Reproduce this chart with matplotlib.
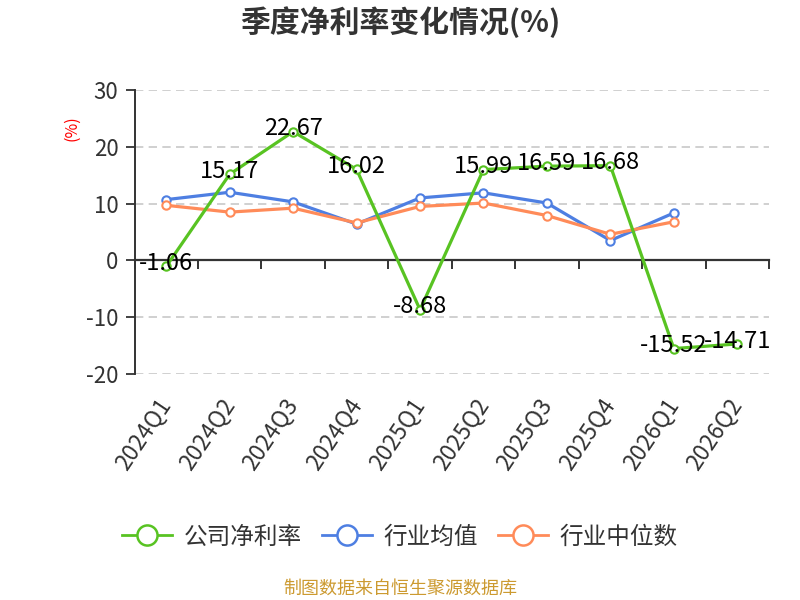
import matplotlib
matplotlib.use("Agg")
import matplotlib.pyplot as plt
from matplotlib.lines import Line2D
import numpy as np

plt.rcParams['font.family'] = ['Noto Sans CJK SC', 'DejaVu Sans']
plt.rcParams['axes.unicode_minus'] = False

categories = ['2024Q1', '2024Q2', '2024Q3', '2024Q4', '2025Q1', '2025Q2',
              '2025Q3', '2025Q4', '2026Q1', '2026Q2']
company = [-1.06, 15.17, 22.67, 16.02, -8.68, 15.99, 16.59, 16.68, -15.52, -14.71]
industry_avg = [10.7, 12.0, 10.3, 6.4, 11.0, 11.9, 10.1, 3.5, 8.35]
industry_med = [9.7, 8.5, 9.2, 6.6, 9.5, 10.1, 7.9, 4.6, 6.8]
yticks = [-20, -10, 0, 10, 20, 30]
series_names = ['公司净利率', '行业均值', '行业中位数']

green = '#58c322'
blue = '#4e7fe2'
orange = '#ff8b59'
text_dark = '#333333'

fig = plt.figure(figsize=(8, 6), dpi=100)
ax = fig.add_axes([134.5/800, 1-374/600, 634.5/800, 284/600])

x = np.arange(len(categories))
xa = np.arange(len(industry_avg))

ax.plot(xa, industry_avg, color=blue, lw=2.3, marker='o', ms=6, mfc='white',
        mec=blue, mew=1.5, zorder=3)
ax.plot(xa, industry_med, color=orange, lw=2.3, marker='o', ms=6, mfc='white',
        mec=orange, mew=1.5, zorder=3)
ax.plot(x, company, color=green, lw=2.3, marker='o', ms=6, mfc='white',
        mec=green, mew=1.5, zorder=4)

for xi, v in zip(x, company):
    ax.annotate(f'{v:.2f}', (xi, v), xytext=(0, 2), textcoords='offset points',
                ha='center', va='center', fontsize=17, color='black', zorder=6)

ax.set_xlim(-0.5, len(categories) - 0.5)
ax.set_ylim(-20, 30)
ax.set_yticks(yticks)
ax.set_yticklabels([str(t) for t in yticks], fontsize=16, color=text_dark)
ax.tick_params(axis='y', length=6.5, width=1.3, color=text_dark, pad=5)
for t in yticks:
    ax.axhline(t, color='#c8c8c8', lw=1.2, ls=(0, (5, 3.2)), zorder=1)

for s in ['top', 'right']:
    ax.spines[s].set_visible(False)
ax.spines['left'].set_color(text_dark)
ax.spines['left'].set_linewidth(1.4)
ax.spines['bottom'].set_position(('data', 0))
ax.spines['bottom'].set_color(text_dark)
ax.spines['bottom'].set_linewidth(1.6)
ax.set_xticks(np.arange(len(categories) + 1) - 0.5)
ax.set_xticklabels([])
ax.tick_params(axis='x', length=6.5, width=1.4, color=text_dark, direction='out')

trans = ax.get_xaxis_transform()
for xi, c in zip(x, categories):
    ax.text(xi + 0.0, -0.095, c, transform=trans, rotation=56, rotation_mode='anchor',
            ha='right', va='center', fontsize=16.5, color=text_dark)

fig.text(72/800, 1-128/600, '(%)', rotation=90, color='red', fontsize=11.5,
         ha='center', va='center')

fig.text(0.5, 1-22/600, '季度净利率变化情况(%)', ha='center', va='center',
         fontsize=21.5, fontweight='bold', color=text_dark)

handles = [Line2D([], [], color=c, lw=2, marker='o', ms=14.5, mfc='white', mec=c, mew=1.8)
           for c in (green, blue, orange)]
leg = fig.legend(handles=handles, labels=series_names,
                 loc='center', bbox_to_anchor=(0.5, 1-537/600), ncol=3, frameon=False,
                 fontsize=17, handlelength=2.1, handletextpad=0.5, columnspacing=0.85)
for t in leg.get_texts():
    t.set_color(text_dark)

fig.text(0.5, 1-589/600, '制图数据来自恒生聚源数据库', ha='center', va='center',
         fontsize=13, color='#cc9a30')

fig.savefig('out.png', dpi=100)
